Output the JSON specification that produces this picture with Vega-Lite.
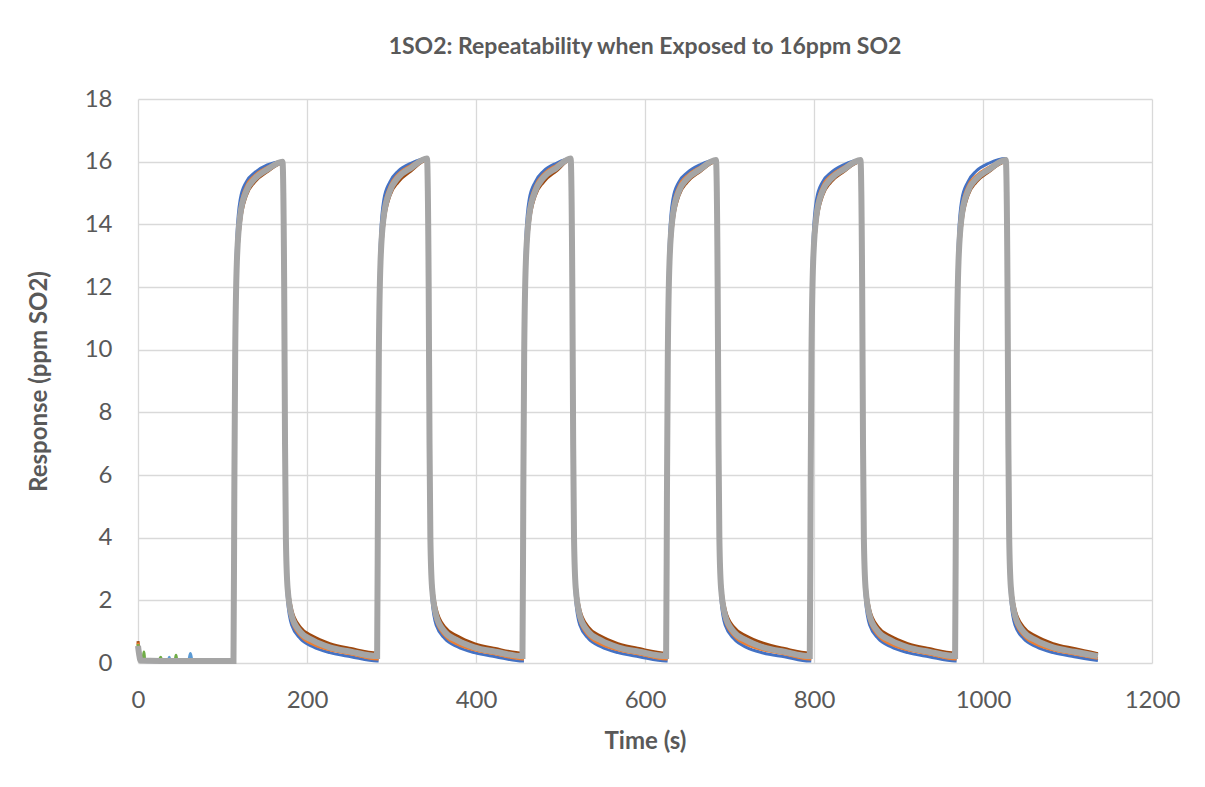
{
  "$schema": "https://vega.github.io/schema/vega-lite/v6.json",
  "autosize": {"type": "none"},
  "width": 1014,
  "height": 564,
  "padding": {"left": 138, "top": 99, "right": 53, "bottom": 124},
  "background": "white",
  "title": {
    "text": "1SO2: Repeatability when Exposed to 16ppm SO2",
    "font": "Lato",
    "fontSize": 23,
    "fontWeight": "bold",
    "color": "#595959",
    "anchor": "middle",
    "frame": "group",
    "offset": 28
  },
  "config": {
    "view": {"stroke": null},
    "axis": {
      "labelFont": "Lato",
      "labelFontSize": 24,
      "labelColor": "#595959",
      "titleFont": "Lato",
      "titleFontSize": 24,
      "titleFontWeight": "bold",
      "titleColor": "#595959",
      "gridColor": "#d9d9d9",
      "gridWidth": 1.3,
      "domain": false,
      "ticks": false
    }
  },
  "data": {
    "values": [
      {"s":"A","t":0,"v":0.7},{"s":"A","t":1.5,"v":0.3},{"s":"A","t":3,"v":0.1},{"s":"A","t":50,"v":0.08},
      {"s":"A","t":113,"v":0.08},{"s":"A","t":114,"v":5},{"s":"A","t":115,"v":9.2},{"s":"A","t":117,"v":12.3},{"s":"A","t":121,"v":14.0},{"s":"A","t":128,"v":14.9},{"s":"A","t":138,"v":15.35},{"s":"A","t":153,"v":15.68},{"s":"A","t":171,"v":15.95},
      {"s":"A","t":173,"v":12.5},{"s":"A","t":174,"v":7.6},{"s":"A","t":175,"v":4.4},{"s":"A","t":177,"v":2.7},{"s":"A","t":182,"v":1.7},{"s":"A","t":192,"v":1.15},{"s":"A","t":207,"v":0.85},{"s":"A","t":227,"v":0.62},{"s":"A","t":252,"v":0.46},
      {"s":"A","t":283,"v":0.32},{"s":"A","t":284,"v":5},{"s":"A","t":285,"v":9.2},{"s":"A","t":287,"v":12.3},{"s":"A","t":291,"v":14.0},{"s":"A","t":298,"v":14.9},{"s":"A","t":308,"v":15.35},{"s":"A","t":323,"v":15.7},{"s":"A","t":342,"v":16.05},
      {"s":"A","t":344,"v":12.5},{"s":"A","t":345,"v":7.6},{"s":"A","t":346,"v":4.4},{"s":"A","t":348,"v":2.7},{"s":"A","t":353,"v":1.72},{"s":"A","t":363,"v":1.15},{"s":"A","t":378,"v":0.86},{"s":"A","t":398,"v":0.62},{"s":"A","t":423,"v":0.46},
      {"s":"A","t":455,"v":0.32},{"s":"A","t":456,"v":5},{"s":"A","t":457,"v":9.2},{"s":"A","t":459,"v":12.3},{"s":"A","t":463,"v":14.0},{"s":"A","t":470,"v":14.9},{"s":"A","t":480,"v":15.35},{"s":"A","t":495,"v":15.7},{"s":"A","t":512,"v":16.05},
      {"s":"A","t":514,"v":12.5},{"s":"A","t":515,"v":7.6},{"s":"A","t":516,"v":4.4},{"s":"A","t":518,"v":2.7},{"s":"A","t":523,"v":1.7},{"s":"A","t":533,"v":1.15},{"s":"A","t":548,"v":0.85},{"s":"A","t":568,"v":0.62},{"s":"A","t":593,"v":0.46},
      {"s":"A","t":625,"v":0.32},{"s":"A","t":626,"v":5},{"s":"A","t":627,"v":9.2},{"s":"A","t":629,"v":12.3},{"s":"A","t":633,"v":14.0},{"s":"A","t":640,"v":14.9},{"s":"A","t":650,"v":15.35},{"s":"A","t":665,"v":15.68},{"s":"A","t":684,"v":16.0},
      {"s":"A","t":686,"v":12.5},{"s":"A","t":687,"v":7.6},{"s":"A","t":688,"v":4.4},{"s":"A","t":690,"v":2.7},{"s":"A","t":695,"v":1.7},{"s":"A","t":705,"v":1.15},{"s":"A","t":720,"v":0.86},{"s":"A","t":740,"v":0.63},{"s":"A","t":765,"v":0.46},
      {"s":"A","t":795,"v":0.32},{"s":"A","t":796,"v":5},{"s":"A","t":797,"v":9.2},{"s":"A","t":799,"v":12.3},{"s":"A","t":803,"v":14.0},{"s":"A","t":810,"v":14.9},{"s":"A","t":820,"v":15.35},{"s":"A","t":835,"v":15.68},{"s":"A","t":855,"v":16.0},
      {"s":"A","t":857,"v":12.5},{"s":"A","t":858,"v":7.6},{"s":"A","t":859,"v":4.4},{"s":"A","t":861,"v":2.7},{"s":"A","t":866,"v":1.7},{"s":"A","t":876,"v":1.15},{"s":"A","t":891,"v":0.85},{"s":"A","t":911,"v":0.62},{"s":"A","t":936,"v":0.46},
      {"s":"A","t":967,"v":0.32},{"s":"A","t":968,"v":5},{"s":"A","t":969,"v":9.2},{"s":"A","t":971,"v":12.3},{"s":"A","t":975,"v":14.0},{"s":"A","t":982,"v":14.9},{"s":"A","t":992,"v":15.35},{"s":"A","t":1007,"v":15.68},{"s":"A","t":1027,"v":16.0},
      {"s":"A","t":1029,"v":12.5},{"s":"A","t":1030,"v":7.6},{"s":"A","t":1031,"v":4.4},{"s":"A","t":1033,"v":2.7},{"s":"A","t":1038,"v":1.7},{"s":"A","t":1048,"v":1.15},{"s":"A","t":1063,"v":0.85},{"s":"A","t":1083,"v":0.62},{"s":"A","t":1108,"v":0.46},{"s":"A","t":1136,"v":0.3},

      {"s":"B","t":0,"v":0.4},{"s":"B","t":1.5,"v":0.15},{"s":"B","t":3,"v":0.05},{"s":"B","t":50,"v":0.04},
      {"s":"B","t":113,"v":0.04},{"s":"B","t":114,"v":7},{"s":"B","t":115,"v":11.2},{"s":"B","t":117,"v":13.6},{"s":"B","t":121,"v":14.8},{"s":"B","t":128,"v":15.35},{"s":"B","t":138,"v":15.65},{"s":"B","t":153,"v":15.9},{"s":"B","t":171,"v":16.0},
      {"s":"B","t":173,"v":11},{"s":"B","t":174,"v":6},{"s":"B","t":175,"v":3.3},{"s":"B","t":177,"v":2.0},{"s":"B","t":182,"v":1.2},{"s":"B","t":192,"v":0.78},{"s":"B","t":207,"v":0.52},{"s":"B","t":227,"v":0.33},{"s":"B","t":252,"v":0.2},
      {"s":"B","t":283,"v":0.06},{"s":"B","t":284,"v":7},{"s":"B","t":285,"v":11.2},{"s":"B","t":287,"v":13.6},{"s":"B","t":291,"v":14.8},{"s":"B","t":298,"v":15.35},{"s":"B","t":308,"v":15.7},{"s":"B","t":323,"v":15.95},{"s":"B","t":342,"v":16.1},
      {"s":"B","t":344,"v":11},{"s":"B","t":345,"v":6},{"s":"B","t":346,"v":3.3},{"s":"B","t":348,"v":2.0},{"s":"B","t":353,"v":1.2},{"s":"B","t":363,"v":0.78},{"s":"B","t":378,"v":0.52},{"s":"B","t":398,"v":0.33},{"s":"B","t":423,"v":0.2},
      {"s":"B","t":455,"v":0.06},{"s":"B","t":456,"v":7},{"s":"B","t":457,"v":11.2},{"s":"B","t":459,"v":13.6},{"s":"B","t":463,"v":14.8},{"s":"B","t":470,"v":15.35},{"s":"B","t":480,"v":15.7},{"s":"B","t":495,"v":15.95},{"s":"B","t":512,"v":16.1},
      {"s":"B","t":514,"v":11},{"s":"B","t":515,"v":6},{"s":"B","t":516,"v":3.3},{"s":"B","t":518,"v":2.0},{"s":"B","t":523,"v":1.2},{"s":"B","t":533,"v":0.78},{"s":"B","t":548,"v":0.52},{"s":"B","t":568,"v":0.33},{"s":"B","t":593,"v":0.2},
      {"s":"B","t":625,"v":0.06},{"s":"B","t":626,"v":7},{"s":"B","t":627,"v":11.2},{"s":"B","t":629,"v":13.6},{"s":"B","t":633,"v":14.8},{"s":"B","t":640,"v":15.35},{"s":"B","t":650,"v":15.65},{"s":"B","t":665,"v":15.9},{"s":"B","t":684,"v":16.05},
      {"s":"B","t":686,"v":11},{"s":"B","t":687,"v":6},{"s":"B","t":688,"v":3.3},{"s":"B","t":690,"v":2.0},{"s":"B","t":695,"v":1.2},{"s":"B","t":705,"v":0.78},{"s":"B","t":720,"v":0.5},{"s":"B","t":740,"v":0.32},{"s":"B","t":765,"v":0.2},
      {"s":"B","t":795,"v":0.06},{"s":"B","t":796,"v":7},{"s":"B","t":797,"v":11.2},{"s":"B","t":799,"v":13.6},{"s":"B","t":803,"v":14.8},{"s":"B","t":810,"v":15.35},{"s":"B","t":820,"v":15.65},{"s":"B","t":835,"v":15.9},{"s":"B","t":855,"v":16.05},
      {"s":"B","t":857,"v":11},{"s":"B","t":858,"v":6},{"s":"B","t":859,"v":3.3},{"s":"B","t":861,"v":2.0},{"s":"B","t":866,"v":1.2},{"s":"B","t":876,"v":0.78},{"s":"B","t":891,"v":0.52},{"s":"B","t":911,"v":0.33},{"s":"B","t":936,"v":0.2},
      {"s":"B","t":967,"v":0.06},{"s":"B","t":968,"v":7},{"s":"B","t":969,"v":11.2},{"s":"B","t":971,"v":13.6},{"s":"B","t":975,"v":14.8},{"s":"B","t":982,"v":15.35},{"s":"B","t":992,"v":15.7},{"s":"B","t":1007,"v":15.95},{"s":"B","t":1027,"v":16.1},
      {"s":"B","t":1029,"v":11},{"s":"B","t":1030,"v":6},{"s":"B","t":1031,"v":3.3},{"s":"B","t":1033,"v":2.0},{"s":"B","t":1038,"v":1.2},{"s":"B","t":1048,"v":0.78},{"s":"B","t":1063,"v":0.52},{"s":"B","t":1083,"v":0.33},{"s":"B","t":1108,"v":0.2},{"s":"B","t":1136,"v":0.08},

      {"s":"C","t":0,"v":0.65},{"s":"C","t":1.5,"v":0.3},{"s":"C","t":3,"v":0.1},{"s":"C","t":50,"v":0.07},
      {"s":"C","t":113,"v":0.07},{"s":"C","t":114,"v":6.2},{"s":"C","t":115,"v":10.5},{"s":"C","t":117,"v":13.2},{"s":"C","t":121,"v":14.5},{"s":"C","t":128,"v":15.2},{"s":"C","t":138,"v":15.55},{"s":"C","t":153,"v":15.82},{"s":"C","t":171,"v":16.0},
      {"s":"C","t":173,"v":11.5},{"s":"C","t":174,"v":6.5},{"s":"C","t":175,"v":3.6},{"s":"C","t":177,"v":2.2},{"s":"C","t":182,"v":1.35},{"s":"C","t":192,"v":0.88},{"s":"C","t":207,"v":0.6},{"s":"C","t":227,"v":0.42},{"s":"C","t":252,"v":0.29},
      {"s":"C","t":283,"v":0.13},{"s":"C","t":284,"v":6.2},{"s":"C","t":285,"v":10.5},{"s":"C","t":287,"v":13.2},{"s":"C","t":291,"v":14.5},{"s":"C","t":298,"v":15.2},{"s":"C","t":308,"v":15.6},{"s":"C","t":323,"v":15.88},{"s":"C","t":342,"v":16.1},
      {"s":"C","t":344,"v":11.5},{"s":"C","t":345,"v":6.5},{"s":"C","t":346,"v":3.6},{"s":"C","t":348,"v":2.2},{"s":"C","t":353,"v":1.35},{"s":"C","t":363,"v":0.88},{"s":"C","t":378,"v":0.6},{"s":"C","t":398,"v":0.42},{"s":"C","t":423,"v":0.29},
      {"s":"C","t":455,"v":0.13},{"s":"C","t":456,"v":6.2},{"s":"C","t":457,"v":10.5},{"s":"C","t":459,"v":13.2},{"s":"C","t":463,"v":14.5},{"s":"C","t":470,"v":15.2},{"s":"C","t":480,"v":15.6},{"s":"C","t":495,"v":15.88},{"s":"C","t":512,"v":16.1},
      {"s":"C","t":514,"v":11.5},{"s":"C","t":515,"v":6.5},{"s":"C","t":516,"v":3.6},{"s":"C","t":518,"v":2.2},{"s":"C","t":523,"v":1.35},{"s":"C","t":533,"v":0.88},{"s":"C","t":548,"v":0.6},{"s":"C","t":568,"v":0.42},{"s":"C","t":593,"v":0.29},
      {"s":"C","t":625,"v":0.13},{"s":"C","t":626,"v":6.2},{"s":"C","t":627,"v":10.5},{"s":"C","t":629,"v":13.2},{"s":"C","t":633,"v":14.5},{"s":"C","t":640,"v":15.2},{"s":"C","t":650,"v":15.55},{"s":"C","t":665,"v":15.82},{"s":"C","t":684,"v":16.05},
      {"s":"C","t":686,"v":11.5},{"s":"C","t":687,"v":6.5},{"s":"C","t":688,"v":3.6},{"s":"C","t":690,"v":2.2},{"s":"C","t":695,"v":1.35},{"s":"C","t":705,"v":0.88},{"s":"C","t":720,"v":0.6},{"s":"C","t":740,"v":0.42},{"s":"C","t":765,"v":0.29},
      {"s":"C","t":795,"v":0.13},{"s":"C","t":796,"v":6.2},{"s":"C","t":797,"v":10.5},{"s":"C","t":799,"v":13.2},{"s":"C","t":803,"v":14.5},{"s":"C","t":810,"v":15.2},{"s":"C","t":820,"v":15.55},{"s":"C","t":835,"v":15.82},{"s":"C","t":855,"v":16.05},
      {"s":"C","t":857,"v":11.5},{"s":"C","t":858,"v":6.5},{"s":"C","t":859,"v":3.6},{"s":"C","t":861,"v":2.2},{"s":"C","t":866,"v":1.35},{"s":"C","t":876,"v":0.88},{"s":"C","t":891,"v":0.6},{"s":"C","t":911,"v":0.42},{"s":"C","t":936,"v":0.29},
      {"s":"C","t":967,"v":0.13},{"s":"C","t":968,"v":6.2},{"s":"C","t":969,"v":10.5},{"s":"C","t":971,"v":13.2},{"s":"C","t":975,"v":14.5},{"s":"C","t":982,"v":15.2},{"s":"C","t":992,"v":15.55},{"s":"C","t":1007,"v":15.82},{"s":"C","t":1027,"v":16.05},
      {"s":"C","t":1029,"v":11.5},{"s":"C","t":1030,"v":6.5},{"s":"C","t":1031,"v":3.6},{"s":"C","t":1033,"v":2.2},{"s":"C","t":1038,"v":1.35},{"s":"C","t":1048,"v":0.88},{"s":"C","t":1063,"v":0.6},{"s":"C","t":1083,"v":0.42},{"s":"C","t":1108,"v":0.29},{"s":"C","t":1136,"v":0.15},

      {"s":"E","t":0,"v":0.6},{"s":"E","t":2,"v":0.1},{"s":"E","t":6,"v":0.1},{"s":"E","t":7,"v":0.35},{"s":"E","t":8,"v":0.1},{"s":"E","t":25,"v":0.1},{"s":"E","t":27,"v":0.18},{"s":"E","t":28,"v":0.08},{"s":"E","t":44,"v":0.08},{"s":"E","t":45,"v":0.25},{"s":"E","t":46,"v":0.08},{"s":"E","t":112,"v":0.06},
      {"s":"F","t":0,"v":0.5},{"s":"F","t":3,"v":0.08},{"s":"F","t":36,"v":0.08},{"s":"F","t":37,"v":0.18},{"s":"F","t":38,"v":0.08},{"s":"F","t":60,"v":0.08},{"s":"F","t":62,"v":0.3},{"s":"F","t":64,"v":0.08},{"s":"F","t":112,"v":0.05},

      {"s":"D","t":0,"v":0.55},{"s":"D","t":1.5,"v":0.25},{"s":"D","t":3,"v":0.08},{"s":"D","t":50,"v":0.06},
      {"s":"D","t":113,"v":0.06},{"s":"D","t":114,"v":5.5},{"s":"D","t":115,"v":9.8},{"s":"D","t":117,"v":12.8},{"s":"D","t":121,"v":14.3},{"s":"D","t":128,"v":15.05},{"s":"D","t":138,"v":15.45},{"s":"D","t":153,"v":15.75},{"s":"D","t":171,"v":16.0},
      {"s":"D","t":173,"v":12},{"s":"D","t":174,"v":7},{"s":"D","t":175,"v":4},{"s":"D","t":177,"v":2.4},{"s":"D","t":182,"v":1.5},{"s":"D","t":192,"v":1.0},{"s":"D","t":207,"v":0.72},{"s":"D","t":227,"v":0.5},{"s":"D","t":252,"v":0.36},
      {"s":"D","t":283,"v":0.22},{"s":"D","t":284,"v":5.5},{"s":"D","t":285,"v":9.8},{"s":"D","t":287,"v":12.8},{"s":"D","t":291,"v":14.3},{"s":"D","t":298,"v":15.05},{"s":"D","t":308,"v":15.5},{"s":"D","t":323,"v":15.8},{"s":"D","t":342,"v":16.1},
      {"s":"D","t":344,"v":12},{"s":"D","t":345,"v":7},{"s":"D","t":346,"v":4},{"s":"D","t":348,"v":2.4},{"s":"D","t":353,"v":1.5},{"s":"D","t":363,"v":1.0},{"s":"D","t":378,"v":0.72},{"s":"D","t":398,"v":0.5},{"s":"D","t":423,"v":0.36},
      {"s":"D","t":455,"v":0.22},{"s":"D","t":456,"v":5.5},{"s":"D","t":457,"v":9.8},{"s":"D","t":459,"v":12.8},{"s":"D","t":463,"v":14.3},{"s":"D","t":470,"v":15.05},{"s":"D","t":480,"v":15.5},{"s":"D","t":495,"v":15.8},{"s":"D","t":512,"v":16.1},
      {"s":"D","t":514,"v":12},{"s":"D","t":515,"v":7},{"s":"D","t":516,"v":4},{"s":"D","t":518,"v":2.4},{"s":"D","t":523,"v":1.5},{"s":"D","t":533,"v":1.0},{"s":"D","t":548,"v":0.72},{"s":"D","t":568,"v":0.5},{"s":"D","t":593,"v":0.36},
      {"s":"D","t":625,"v":0.22},{"s":"D","t":626,"v":5.5},{"s":"D","t":627,"v":9.8},{"s":"D","t":629,"v":12.8},{"s":"D","t":633,"v":14.3},{"s":"D","t":640,"v":15.05},{"s":"D","t":650,"v":15.45},{"s":"D","t":665,"v":15.75},{"s":"D","t":684,"v":16.05},
      {"s":"D","t":686,"v":12},{"s":"D","t":687,"v":7},{"s":"D","t":688,"v":4},{"s":"D","t":690,"v":2.4},{"s":"D","t":695,"v":1.5},{"s":"D","t":705,"v":1.0},{"s":"D","t":720,"v":0.72},{"s":"D","t":740,"v":0.5},{"s":"D","t":765,"v":0.36},
      {"s":"D","t":795,"v":0.22},{"s":"D","t":796,"v":5.5},{"s":"D","t":797,"v":9.8},{"s":"D","t":799,"v":12.8},{"s":"D","t":803,"v":14.3},{"s":"D","t":810,"v":15.05},{"s":"D","t":820,"v":15.45},{"s":"D","t":835,"v":15.75},{"s":"D","t":855,"v":16.05},
      {"s":"D","t":857,"v":12},{"s":"D","t":858,"v":7},{"s":"D","t":859,"v":4},{"s":"D","t":861,"v":2.4},{"s":"D","t":866,"v":1.5},{"s":"D","t":876,"v":1.0},{"s":"D","t":891,"v":0.72},{"s":"D","t":911,"v":0.5},{"s":"D","t":936,"v":0.36},
      {"s":"D","t":967,"v":0.22},{"s":"D","t":968,"v":5.5},{"s":"D","t":969,"v":9.8},{"s":"D","t":971,"v":12.8},{"s":"D","t":975,"v":14.3},{"s":"D","t":982,"v":15.05},{"s":"D","t":992,"v":15.45},{"s":"D","t":1007,"v":15.75},{"s":"D","t":1027,"v":16.05},
      {"s":"D","t":1029,"v":12},{"s":"D","t":1030,"v":7},{"s":"D","t":1031,"v":4},{"s":"D","t":1033,"v":2.4},{"s":"D","t":1038,"v":1.5},{"s":"D","t":1048,"v":1.0},{"s":"D","t":1063,"v":0.72},{"s":"D","t":1083,"v":0.5},{"s":"D","t":1108,"v":0.36},{"s":"D","t":1136,"v":0.22}
    ]
  },
  "encoding": {
    "x": {
      "field": "t", "type": "quantitative",
      "scale": {"domain": [0, 1200], "nice": false},
      "axis": {"values": [0, 200, 400, 600, 800, 1000, 1200], "format": "d", "title": "Time (s)", "labelPadding": 25, "titlePadding": 17, "labelFlush": false}
    },
    "y": {
      "field": "v", "type": "quantitative",
      "scale": {"domain": [0, 18], "nice": false},
      "axis": {"values": [0, 2, 4, 6, 8, 10, 12, 14, 16, 18], "title": "Response (ppm SO2)", "labelPadding": 26, "titlePadding": 33}
    },
    "color": {
      "field": "s", "type": "nominal",
      "scale": {"domain": ["A", "B", "C", "D", "E", "F"], "range": ["#9E480E", "#4472C4", "#ED7D31", "#A5A5A5", "#70AD47", "#5B9BD5"]},
      "legend": null
    }
  },
  "layer": [
    {
      "transform": [{"filter": "datum.s !== 'D'"}],
      "mark": {"type": "line", "strokeWidth": 3, "interpolate": "monotone"}
    },
    {
      "transform": [{"filter": "datum.s === 'D'"}],
      "mark": {"type": "line", "strokeWidth": 6, "interpolate": "monotone"}
    }
  ]
}
